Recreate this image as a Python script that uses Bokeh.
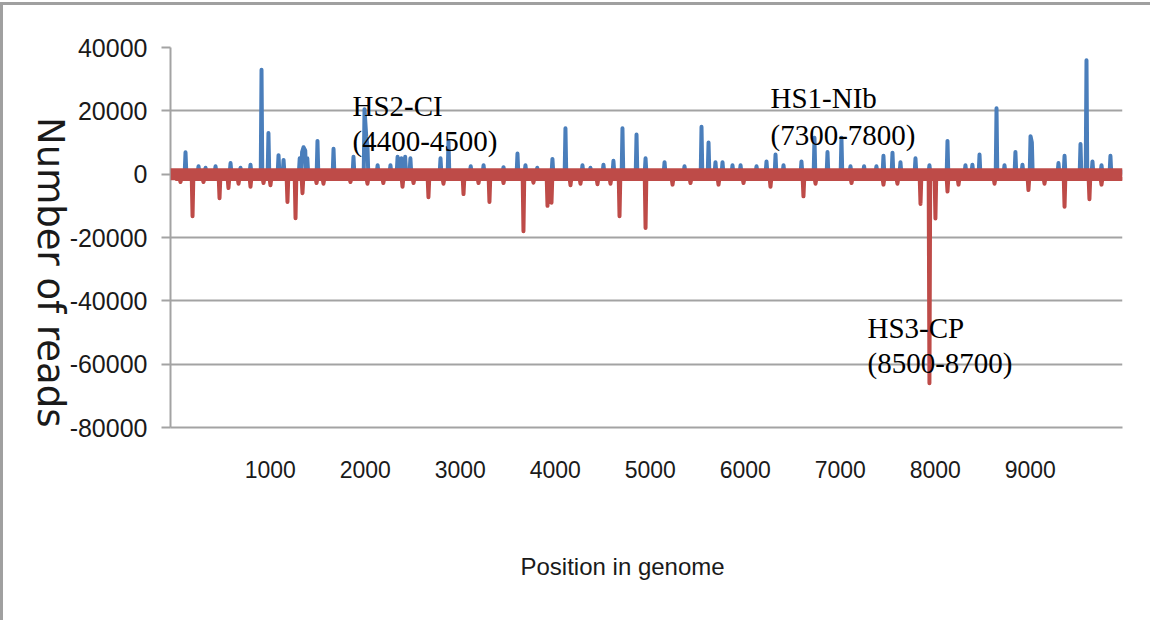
import math
from bokeh.plotting import figure
from bokeh.models import FixedTicker, Label, Span, Range1d, Title
from bokeh.embed import file_html
from bokeh.resources import INLINE

# ---- data ----
x_ticks = [1000, 2000, 3000, 4000, 5000, 6000, 7000, 8000, 9000]
y_ticks = [-80000, -60000, -40000, -20000, 0, 20000, 40000]

blue_pos = [108, 245, 319, 424, 582, 687, 792, 908, 981, 1087, 1140,
            1310, 1335, 1350, 1368, 1390, 1497, 1666, 1876, 1992, 2010, 2023,
            2130, 2265, 2340, 2380, 2420, 2475, 2792, 2876, 3110, 3245, 3455,
            3602, 3686, 3810, 3970, 4107, 4286, 4370, 4507, 4612, 4707, 4855,
            4950, 5150, 5360, 5539, 5613, 5686, 5760, 5865, 5950, 6118, 6223,
            6318, 6402, 6591, 6728, 6865, 7012, 7107, 7250, 7380, 7454, 7549,
            7633, 7791, 7938, 8128, 8317, 8390, 8465, 8644, 8728, 8843, 8917,
            9002, 9016, 9296, 9360, 9528, 9591, 9654, 9749, 9843]
blue_val = [6900, 2500, 2000, 2500, 3500, 2000, 3000, 33000, 13000, 6000, 4500,
            5000, 7000, 8500, 7500, 5000, 10500, 8000, 5500, 20500, 12000, 9000,
            2800, 2800, 5500, 5000, 5500, 5000, 5000, 10500, 2500, 2800, 2200,
            6500, 2800, 2000, 4800, 14500, 2800, 2000, 3000, 4200, 14500, 12500,
            5000, 3800, 2500, 15000, 10000, 3800, 3800, 2800, 2800, 2500, 4000,
            6200, 2800, 4000, 11500, 7000, 11500, 2500, 2500, 2500, 5800, 6800,
            3800, 5000, 2800, 10500, 2800, 3000, 6200, 20800, 2800, 7000, 3000,
            12000, 10000, 3500, 5800, 9500, 36000, 4000, 2800, 5800]

red_pos = [55, 182, 297, 466, 560, 666, 792, 929, 1002, 1181, 1266, 1339,
           1487, 1560, 1844, 2023, 2190, 2392, 2508, 2665, 2823, 3034, 3192,
           3307, 3455, 3665, 3770, 3918, 3960, 4160, 4265, 4444, 4581, 4676,
           4950, 5234, 5423, 5718, 5981, 6265, 6612, 6739, 7118, 7454, 7601,
           7844, 7938, 8001, 8128, 8244, 8623, 8980, 9149, 9360, 9622, 9749]
red_val = [-2500, -13300, -2500, -7600, -4400, -3000, -4000, -2800, -3500,
           -8800, -13900, -6000, -2800, -3000, -2500, -3000, -2800, -4000,
           -2800, -7300, -3000, -6300, -2800, -8800, -2800, -18000, -2700,
           -10000, -9000, -3500, -3000, -3200, -3000, -13300, -17000, -3300,
           -2800, -3300, -2800, -4000, -7000, -3000, -2800, -3300, -3000,
           -9400, -66000, -14000, -5500, -3300, -3000, -5000, -3000, -10300,
           -7900, -3300]

BLUE_BASE = 800
RED_BASE = -1500
X_START, X_END = -50, 9970


def spike_path(pos, val, base, half=8):
    pairs = sorted(zip(pos, val))
    xs, ys = [0], [base]
    for i, (p, v) in enumerate(pairs):
        prev = pairs[i - 1][0] if i > 0 else None
        nxt = pairs[i + 1][0] if i + 1 < len(pairs) else None
        if prev is None or p - prev > 2 * half + 4:
            xs.append(p - half); ys.append(base)
        xs.append(p); ys.append(v)
        if nxt is None or nxt - p > 2 * half + 4:
            xs.append(p + half); ys.append(base)
    xs.append(X_END); ys.append(base)
    return xs, ys


BLUE = "#4a7ebb"
RED = "#be4b48"
GRID = "#a3a3a3"
SANS = "Liberation Sans"
INK = "#1a1a1a"

p = figure(width=1150, height=618, output_backend="svg", toolbar_location=None,
           x_range=Range1d(X_START, X_END), y_range=Range1d(-80000, 40000),
           min_border_left=167, min_border_right=31,
           min_border_top=42, min_border_bottom=196)
p.styles = {"margin-top": "2px",
            "border-top": "3px solid #a0a0a0", "border-left": "3px solid #a0a0a0"}
p.outline_line_color = None
p.background_fill_color = "white"
p.border_fill_color = "white"

bx, by = spike_path(blue_pos, blue_val, BLUE_BASE)
p.line(bx, by, line_color=BLUE, line_width=4, line_join="round")

band = Span(location=0, dimension="width", line_color=RED, line_width=12)
p.add_layout(band)

rx, ry = spike_path(red_pos, red_val, RED_BASE)
p.line(rx, ry, line_color=RED, line_width=4, line_join="round")

# axes
yax = p.yaxis[0]
yax.ticker = FixedTicker(ticks=y_ticks)
yax.major_label_overrides = {t: str(t) for t in y_ticks}
yax.axis_line_color = GRID
yax.axis_line_width = 2
yax.major_tick_line_color = GRID
yax.major_tick_line_width = 2
yax.major_tick_out = 9
yax.major_tick_in = 0
yax.minor_tick_line_color = None
yax.major_label_standoff = 14
yax.major_label_text_font = SANS
yax.major_label_text_font_size = "25px"
yax.major_label_text_color = INK
yax.axis_label = "Number of reads"
yax.axis_label_text_font = "DejaVu Sans"
yax.axis_label_text_font_size = "37px"
yax.axis_label_text_font_style = "normal"
yax.axis_label_text_color = INK
yax.axis_label_standoff = 16
props = yax.properties()
if "axis_label_orientation" in props:
    yax.axis_label_orientation = -math.pi / 2
if "axis_label_align" in props:
    yax.axis_label_align = "start"

xax = p.xaxis[0]
xax.ticker = FixedTicker(ticks=x_ticks)
xax.axis_line_color = GRID
xax.axis_line_width = 2
xax.major_tick_line_color = None
xax.minor_tick_line_color = None
xax.major_label_standoff = 27
xax.major_label_text_font = SANS
xax.major_label_text_font_size = "23px"
xax.major_label_text_color = INK
# blank spacer label so the title below sits lower
xax.axis_label = "\u00a0"
xax.axis_label_text_font_size = "24px"
xax.axis_label_standoff = 40

p.xgrid.grid_line_color = None
p.ygrid.grid_line_color = GRID
p.ygrid.grid_line_width = 2

# x title
p.add_layout(Title(text="Position in genome", align="left", offset=350,
                   text_font=SANS, text_font_size="24px",
                   text_font_style="normal", text_color=INK, standoff=0),
             "below")

# annotations
ann = [("HS2-CI", 1866, 21400), ("(4400-4500)", 1866, 10550),
       ("HS1-NIb", 6265, 23940), ("(7300-7800)", 6265, 12450),
       ("HS3-CP", 7286, -48680), ("(8500-8700)", 7286, -59760)]
for t, ax_, ay_ in ann:
    p.add_layout(Label(x=ax_, y=ay_, text=t, text_font="Liberation Serif",
                       text_font_size="29px", text_color="black",
                       text_align="left", text_baseline="alphabetic"))

open("out.html", "w").write(file_html(p, INLINE))
